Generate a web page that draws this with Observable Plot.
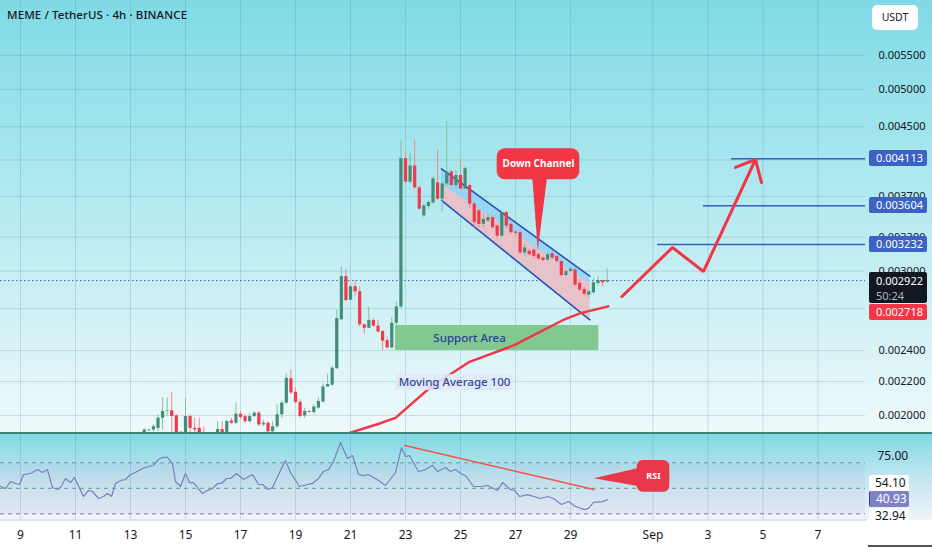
<!DOCTYPE html>
<html>
<head>
<meta charset="utf-8">
<script src="https://cdn.jsdelivr.net/npm/d3@7"></script>
<script src="https://cdn.jsdelivr.net/npm/@observablehq/plot@0.6"></script>
<style>
  html,body{margin:0;padding:0;background:#fff;}
  #chart{position:relative;width:932px;height:550px;overflow:hidden;font-family:"Noto Sans",sans-serif;color:#131722;}
  .bg{position:absolute;left:0;width:932px;}
  #bgMain{top:0;height:433px;background:linear-gradient(to bottom,#7fdae6 0%,#bdecf2 55%,#eff9fb 100%);}
  #bgRsi{top:433px;height:87px;background:linear-gradient(to bottom,#7ed8e4 0%,#c2e6ef 50%,#f2f3f9 100%);}
  #mainPlot,#rsiPlot{position:absolute;left:0;}
  #mainPlot{top:0;}
  #rsiPlot{top:433px;}
  #chart svg{overflow:hidden;}
  .line{position:absolute;}
  .tag{position:absolute;left:869px;width:58px;box-sizing:border-box;padding-left:7px;font-size:11px;line-height:16px;height:16px;color:#fff;border-radius:2px;}
  .rtag{position:absolute;left:869px;width:40px;box-sizing:border-box;padding-left:6px;font-size:12px;line-height:16px;height:16px;border-radius:2px;}
  #title{position:absolute;left:7px;top:7px;font-size:11.5px;font-weight:500;color:#131722;letter-spacing:0.1px;}
  #unit{position:absolute;left:872px;top:5px;width:46px;height:25px;background:#fff;border-radius:5px;font-size:10.5px;line-height:25px;text-align:center;color:#131722;}
  #maLabel{position:absolute;font-size:11.5px;font-weight:500;color:#3546a3;background:rgba(224,233,246,0.85);padding:0 3px;line-height:16px;white-space:nowrap;transform:translate(-50%,-50%);}
</style>
</head>
<body>
<div id="chart">
  <div class="bg" id="bgMain"></div>
  <div class="bg" id="bgRsi"></div>
  <div id="mainPlot"></div>
  <div id="rsiPlot"></div>
</div>
<script>
// ---------- scales / ticks ----------
const X_DOMAIN = [8.2727, 39.7273];          // days (Aug; 32 = Sep 1)
const Y_DOMAIN = [0.0019014, 0.006416];      // price, log scale
const RSI_DOMAIN = [24.75, 92.98];
const dayTicks = [9, 11, 13, 15, 17, 19, 21, 23, 25, 27, 29, 32, 34, 36, 38];
const dayTickLabels = ["9", "11", "13", "15", "17", "19", "21", "23", "25", "27", "29", "Sep", "3", "5", "7"];
const priceTicks = [0.0020, 0.0022, 0.0024, 0.0027, 0.0030, 0.0033, 0.0037, 0.0041, 0.0045, 0.0050, 0.0055];
const hiddenPriceTicks = [0.0027, 0.0041];   // labels fully covered by the value tags
const rsiTicks = [75];
const rsiBands = [70, 50, 30];

// ---------- candles (4h bars from Aug 13 08:00) ----------
const firstBarDay = 13 + 8 / 24;
const candleOpen = [0.001901,0.001899,0.001916,0.001920,0.001929,0.001985,0.002023,0.002027,0.001998,0.001908,0.001899,0.001994,0.001929,0.001929,0.001890,0.001870,0.001860,0.001890,0.001922,0.001907,0.001970,0.001957,0.002007,0.001994,0.001966,0.001994,0.002013,0.001948,0.001957,0.001911,0.001938,0.002004,0.002071,0.002217,0.002135,0.002075,0.001998,0.002021,0.002017,0.002042,0.002077,0.002167,0.002178,0.002281,0.002617,0.002954,0.002765,0.002871,0.002831,0.002580,0.002555,0.002612,0.002570,0.002532,0.002468,0.002418,0.002591,0.002713,0.004115,0.003852,0.004031,0.003790,0.003503,0.003598,0.003632,0.003844,0.003673,0.003833,0.003963,0.003815,0.003925,0.003779,0.003815,0.003622,0.003553,0.003421,0.003454,0.003487,0.003405,0.003310,0.003537,0.003421,0.003348,0.003342,0.003157,0.003172,0.003181,0.003142,0.003112,0.003095,0.003150,0.003127,0.003082,0.002963,0.002996,0.003011,0.002899,0.002850,0.002805,0.002823,0.002897,0.002921,0.002910];
const candleHigh = [0.001906,0.001929,0.001925,0.001948,0.002004,0.002101,0.002101,0.002131,0.002004,0.001912,0.002101,0.002004,0.001985,0.001985,0.001938,0.001885,0.001890,0.001966,0.001966,0.001975,0.001985,0.002071,0.002023,0.002004,0.002013,0.002023,0.002023,0.001975,0.001966,0.001966,0.002062,0.002081,0.002245,0.002271,0.002161,0.002091,0.002042,0.002029,0.002062,0.002101,0.002186,0.002245,0.002293,0.002688,0.003034,0.003011,0.002885,0.002926,0.002871,0.002587,0.002713,0.002625,0.002612,0.002539,0.002492,0.002634,0.002753,0.004322,0.004194,0.004174,0.004335,0.003810,0.003622,0.003656,0.003910,0.004214,0.003855,0.004568,0.003981,0.003981,0.004096,0.004023,0.003833,0.003639,0.003570,0.003520,0.003520,0.003503,0.003421,0.003553,0.003553,0.003438,0.003358,0.003358,0.003233,0.003190,0.003202,0.003157,0.003127,0.003165,0.003172,0.003135,0.003095,0.003011,0.003030,0.003026,0.002926,0.002871,0.002845,0.002940,0.002954,0.002926,0.003017];
const candleLow = [0.001898,0.001894,0.001912,0.001911,0.001911,0.001920,0.001994,0.001895,0.001890,0.001890,0.001890,0.001902,0.001895,0.001880,0.001850,0.001840,0.001845,0.001880,0.001885,0.001890,0.001948,0.001948,0.001977,0.001957,0.001957,0.001989,0.001938,0.001938,0.001902,0.001895,0.001929,0.001985,0.002062,0.002121,0.002062,0.001985,0.001985,0.002011,0.002004,0.002033,0.002071,0.002165,0.002172,0.002277,0.002612,0.002755,0.002762,0.002793,0.002565,0.002510,0.002553,0.002563,0.002520,0.002399,0.002410,0.002410,0.002575,0.002702,0.003832,0.003832,0.003780,0.003555,0.003487,0.003570,0.003622,0.003656,0.003540,0.003813,0.003800,0.003779,0.003762,0.003779,0.003570,0.003390,0.003390,0.003390,0.003438,0.003373,0.003279,0.003294,0.003373,0.003326,0.003294,0.003142,0.003127,0.003127,0.003112,0.003091,0.003080,0.003082,0.003095,0.003070,0.002954,0.002954,0.002990,0.002871,0.002832,0.002800,0.002780,0.002812,0.002875,0.002871,0.002899];
const candleClose = [0.001903,0.001920,0.001920,0.001938,0.001985,0.002023,0.002026,0.001994,0.001899,0.001902,0.001994,0.001929,0.001920,0.001890,0.001870,0.001860,0.001880,0.001922,0.001906,0.001966,0.001957,0.002007,0.001989,0.001966,0.001994,0.002013,0.001948,0.001957,0.001911,0.001938,0.002004,0.002071,0.002220,0.002131,0.002075,0.001994,0.002023,0.002017,0.002048,0.002081,0.002167,0.002182,0.002284,0.002625,0.002954,0.002762,0.002871,0.002831,0.002580,0.002555,0.002612,0.002570,0.002528,0.002464,0.002418,0.002591,0.002713,0.004115,0.003852,0.004031,0.003790,0.003570,0.003604,0.003639,0.003888,0.003673,0.003833,0.003963,0.003815,0.003925,0.003779,0.004000,0.003622,0.003438,0.003421,0.003470,0.003487,0.003390,0.003310,0.003537,0.003405,0.003342,0.003336,0.003157,0.003202,0.003142,0.003127,0.003104,0.003091,0.003142,0.003112,0.003082,0.002963,0.002996,0.003017,0.002885,0.002845,0.002812,0.002831,0.002904,0.002921,0.002904,0.002922];
const lastPrice = 0.002922;
const lastCountdown = "50:24";

// ---------- moving average 100 ----------
const maDays = [19.182, 20.938, 22.091, 22.636, 23.909, 25.302, 26.938, 28.698, 29.364, 30.371];
const maValues = [0.001849, 0.001903, 0.001957, 0.001987, 0.002165, 0.002323, 0.002435, 0.002612, 0.002666, 0.002718];

// ---------- drawings ----------
const channelDays = [24.309, 29.702];
const channelUpper = [0.003999, 0.002958];
const channelLower = [0.003659, 0.002617];
const channelShade = [0.003830, 0.002895];
const supportDays = [22.636, 30.029];
const supportPrices = [0.002401, 0.002575];
const supportText = "Support Area";
const supportTextDay = 25.33;
const maText = "Moving Average 100";
const maTextPos = [24.8, 0.002196];
const projDays = [30.836, 32.709, 33.836, 35.727];
const projPrices = [0.002786, 0.003206, 0.002997, 0.004105];
const arrowDays = [35.0, 35.727, 35.945];
const arrowPrices = [0.004014, 0.004105, 0.003848];
const targetLevels = [0.004113, 0.003604, 0.003232];
const targetStartDays = [34.855, 33.836, 32.164];
const calloutText = "Down Channel";
const calloutDays = [26.335, 29.338];
const calloutPrices = [0.003878, 0.004231];
const calloutPointerDays = [27.607, 28.153, 27.811];
const calloutPointerPrices = [0.003920, 0.003920, 0.003179];

// ---------- RSI ----------
const rsiDays = [8.273,8.455,8.636,8.818,8.964,9.109,9.364,9.618,9.8,9.982,10.164,10.345,10.455,10.636,10.818,10.964,11.291,11.473,11.618,11.836,12.018,12.164,12.309,12.455,12.636,12.818,13.0,13.109,13.436,13.655,13.836,14.018,14.164,14.345,14.527,14.636,14.818,15.0,15.145,15.291,15.618,15.8,15.982,16.164,16.309,16.491,16.636,16.855,17.109,17.436,17.655,17.8,18.018,18.164,18.455,18.636,18.818,19.145,19.436,19.618,19.836,20.018,20.2,20.382,20.636,20.891,21.073,21.291,21.473,21.655,22.018,22.273,22.636,22.855,23.0,23.145,23.473,23.727,23.982,24.164,24.455,24.636,24.818,25.0,25.182,25.473,25.727,25.982,26.345,26.527,26.818,26.964,27.145,27.436,27.909,28.164,28.382,28.673,28.927,29.182,29.509,29.655,29.836,30.164,30.345];
const rsiValues = [51.6,49.8,55.3,53.8,53.0,60.8,61.6,64.7,62.4,64.7,50.6,49.1,50.6,57.7,54.5,58.5,43.6,48.3,47.5,42.0,43.6,45.9,43.6,53.8,56.1,56.9,60.8,61.6,65.5,67.1,67.9,72.6,74.2,74.2,69.5,55.3,51.4,61.6,54.5,54.5,45.9,48.3,49.8,53.8,53.8,57.7,57.7,61.6,56.9,60.8,53.0,53.0,49.1,50.6,64.0,71.8,62.4,51.4,53.0,53.8,57.7,63.2,64.7,71.0,85.9,73.4,75.7,60.8,60.0,60.8,56.1,52.2,62.4,82.0,74.9,75.7,63.2,64.7,67.9,63.2,66.3,63.2,64.7,61.6,60.0,51.4,51.4,52.2,48.3,54.5,49.1,48.3,43.6,45.1,42.0,43.6,42.0,37.3,39.6,35.7,33.3,34.2,38.9,39.6,40.93];
const rsiLast = 40.93;
const rsiMaLast = 54.10;
const rsiLow = 32.94;
const rsiTrendDays = [22.975, 29.847];
const rsiTrendValues = [83.6, 49.1];
const rsiCalloutText = "RSI";
const rsiCalloutDays = [31.425, 32.611];
const rsiCalloutValues = [46.9, 71.8];
const rsiPointerDays = [29.847, 31.55, 31.55];
const rsiPointerValues = [57.9, 66.3, 51.4];

// ---------- colours ----------
const UP = "#428c78", UP_WICK = "#7cc49c", DOWN = "#f0394a", DOWN_WICK = "#ee8a8a";
const RED = "#f23645", BLUE = "#3a5fc0", GRID = "#2b7f90";
const FONT = '"Noto Sans", sans-serif';

// ---------- derived tables ----------
const bars = candleOpen.map((open, i) => ({day: firstBarDay + i / 6, open, high: candleHigh[i], low: candleLow[i], close: candleClose[i]}));
const upBars = bars.filter(b => b.close >= b.open);
const downBars = bars.filter(b => b.close < b.open);
const channel = channelDays.map((d, i) => ({day: d, upper: channelUpper[i], lower: channelLower[i], shade: channelShade[i]}));
const ma = maDays.map((d, i) => ({day: d, v: maValues[i]}));
const proj = projDays.map((d, i) => ({day: d, v: projPrices[i]}));
const arrow = arrowDays.map((d, i) => ({day: d, v: arrowPrices[i]}));
const targets = targetLevels.map((v, i) => ({v, x1: targetStartDays[i], x2: X_DOMAIN[1]}));
const pointer = calloutPointerDays.map((d, i) => ({day: d, v: calloutPointerPrices[i]}));
const rsi = rsiDays.map((d, i) => ({day: d, v: rsiValues[i]}));
const rsiTrend = rsiTrendDays.map((d, i) => ({day: d, v: rsiTrendValues[i]}));
const rsiPointer = rsiPointerDays.map((d, i) => ({day: d, v: rsiPointerValues[i]}));
const priceFmt = d3.format(".6f");

const mainPlot = Plot.plot({
  width: 932, height: 433,
  marginLeft: 0, marginRight: 67, marginTop: 0, marginBottom: 0,
  style: {background: "transparent", fontFamily: FONT, fontSize: "11px", color: "#131722"},
  x: {domain: X_DOMAIN, axis: null},
  y: {type: "log", domain: Y_DOMAIN, axis: "right", ticks: priceTicks.filter(v => !hiddenPriceTicks.includes(v)), tickFormat: priceFmt, tickSize: 0, tickPadding: 13, label: null},
  marks: [
    Plot.ruleX(dayTicks, {stroke: GRID, strokeOpacity: 0.2}),
    Plot.ruleY(priceTicks, {x1: X_DOMAIN[0], x2: X_DOMAIN[1], stroke: GRID, strokeOpacity: 0.2}),
    Plot.ruleY([lastPrice], {x1: X_DOMAIN[0], x2: X_DOMAIN[1], stroke: "#4f5fb8", strokeDasharray: "1.5,2.5", strokeWidth: 1}),
    Plot.areaY(channel, {x: "day", y1: "lower", y2: "upper", fill: "#90d2f6", fillOpacity: 0.85}),
    Plot.areaY(channel, {x: "day", y1: "lower", y2: "shade", fill: "#e8c2c9"}),
    Plot.line(channel, {x: "day", y: "upper", stroke: "#2d50b8", strokeWidth: 1.6}),
    Plot.line(channel, {x: "day", y: "lower", stroke: "#2d50b8", strokeWidth: 1.6}),
    Plot.rect([0], {x1: supportDays[0], x2: supportDays[1], y1: supportPrices[0], y2: supportPrices[1], fill: "#82c891"}),
    Plot.text([supportText], {x: supportTextDay, y: Math.sqrt(supportPrices[0] * supportPrices[1]), text: d => d, fill: "#2c3f9c", fontSize: 11.5, fontWeight: 500}),
    Plot.ruleX(upBars, {x: "day", y1: "low", y2: "high", stroke: UP_WICK, strokeWidth: 1, clip: true}),
    Plot.ruleX(downBars, {x: "day", y1: "low", y2: "high", stroke: DOWN_WICK, strokeWidth: 1, clip: true}),
    Plot.ruleX(upBars, {x: "day", y1: "open", y2: "close", stroke: UP, strokeWidth: 3.2, clip: true}),
    Plot.ruleX(downBars, {x: "day", y1: "open", y2: "close", stroke: DOWN, strokeWidth: 3.2, clip: true}),
    Plot.line(ma, {x: "day", y: "v", stroke: RED, strokeWidth: 2.4, clip: true}),
    Plot.ruleY(targets, {y: "v", x1: "x1", x2: "x2", stroke: BLUE, strokeWidth: 1.5}),
    Plot.line(proj, {x: "day", y: "v", stroke: RED, strokeWidth: 3, strokeLinejoin: "miter", strokeLinecap: "butt"}),
    Plot.line(arrow, {x: "day", y: "v", stroke: RED, strokeWidth: 3, strokeLinejoin: "miter"}),
    Plot.line(pointer, {x: "day", y: "v", fill: RED, stroke: "none"}),
    Plot.rect([0], {x1: calloutDays[0], x2: calloutDays[1], y1: calloutPrices[0], y2: calloutPrices[1], fill: RED, rx: 8}),
    Plot.text([calloutText], {x: (calloutDays[0] + calloutDays[1]) / 2, y: Math.sqrt(calloutPrices[0] * calloutPrices[1]), text: d => d, fill: "white", fontSize: 10, fontWeight: "bold"})
  ]
});
document.getElementById("mainPlot").appendChild(mainPlot);

const rsiPlot = Plot.plot({
  width: 932, height: 117,
  marginLeft: 0, marginRight: 67, marginTop: 0, marginBottom: 30,
  style: {background: "transparent", fontFamily: FONT, fontSize: "12px", color: "#131722"},
  x: {domain: X_DOMAIN, ticks: dayTicks, tickFormat: d => dayTickLabels[dayTicks.indexOf(d)], tickSize: 0, tickPadding: 10, label: null},
  y: {domain: RSI_DOMAIN, axis: "right", ticks: rsiTicks, tickFormat: d3.format(".2f"), tickSize: 0, tickPadding: 12, label: null},
  marks: [
    Plot.rect([0], {x1: X_DOMAIN[0], x2: X_DOMAIN[1], y1: rsiBands[2], y2: rsiBands[0], fill: "#7e57c2", fillOpacity: 0.06}),
    Plot.ruleX(dayTicks, {stroke: GRID, strokeOpacity: 0.2}),
    Plot.ruleY(rsiBands.slice(0, 2), {x1: X_DOMAIN[0], x2: X_DOMAIN[1], stroke: "#6f9a98", strokeDasharray: "4,4", strokeWidth: 1}),
    Plot.ruleY(rsiBands.slice(2), {x1: X_DOMAIN[0], x2: X_DOMAIN[1], stroke: "#7b7fc0", strokeDasharray: "4,4", strokeWidth: 1}),
    Plot.line(rsi, {x: "day", y: "v", stroke: "#7e7fbe", strokeWidth: 1.2, clip: true}),
    Plot.line(rsiTrend, {x: "day", y: "v", stroke: "#f0574a", strokeWidth: 1.5}),
    Plot.line(rsiPointer, {x: "day", y: "v", fill: "#e8384a", stroke: "none"}),
    Plot.rect([0], {x1: rsiCalloutDays[0], x2: rsiCalloutDays[1], y1: rsiCalloutValues[0], y2: rsiCalloutValues[1], fill: "#e8384a", rx: 6}),
    Plot.text([rsiCalloutText], {x: (rsiCalloutDays[0] + rsiCalloutDays[1]) / 2, y: (rsiCalloutValues[0] + rsiCalloutValues[1]) / 2, text: d => d, fill: "white", fontSize: 9, fontWeight: "bold"})
  ]
});
document.getElementById("rsiPlot").appendChild(rsiPlot);

// ---------- overlays positioned with the plot scales ----------
const chart = document.getElementById("chart");
function sc(plot, name, fallback) {
  const s = plot.scale && plot.scale(name);
  return (s && s.apply) ? v => s.apply(v) : fallback;
}
const yMain = sc(mainPlot, "y", v => 433 * (1 - Math.log(v / Y_DOMAIN[0]) / Math.log(Y_DOMAIN[1] / Y_DOMAIN[0])));
const xMain = sc(mainPlot, "x", v => 865 * (v - X_DOMAIN[0]) / (X_DOMAIN[1] - X_DOMAIN[0]));
const yRsi = sc(rsiPlot, "y", v => 87 * (1 - (v - RSI_DOMAIN[0]) / (RSI_DOMAIN[1] - RSI_DOMAIN[0])));

function el(tag, cls, css, html) {
  const e = document.createElement(tag);
  if (cls) e.className = cls;
  Object.assign(e.style, css || {});
  e.innerHTML = html;
  chart.appendChild(e);
  return e;
}
// separators
el("div", "line", {left: "0", top: "432px", width: "932px", height: "1.5px", background: "#3b8579"}, "");
el("div", "line", {left: "0", top: "519px", width: "866px", height: "2px", background: "#e1e4ea"}, "");
el("div", "line", {left: "868px", top: "545px", width: "64px", height: "1.5px", background: "#50535e"}, "");

const t = el("div", "", {}, "MEME / TetherUS · 4h · BINANCE"); t.id = "title";
const u = el("div", "", {}, "USDT"); u.id = "unit";

targetLevels.forEach(v => {
  el("div", "tag", {top: (yMain(v) - 8) + "px", background: "#3b62c4"}, priceFmt(v));
});
const lastY = yMain(lastPrice);
el("div", "tag", {top: (lastY - 8) + "px", height: "31px", background: "#131722", lineHeight: "15px", paddingTop: "1px"},
   priceFmt(lastPrice) + '<br><span style="color:#b2b5be">' + lastCountdown + "</span>");
el("div", "tag", {top: (lastY + 24) + "px", background: RED}, priceFmt(maValues[maValues.length - 1]));

const m = el("div", "", {left: xMain(maTextPos[0]) + "px", top: yMain(maTextPos[1]) + "px"}, maText); m.id = "maLabel";

// RSI axis labels
const r1 = 433 + yRsi(rsiMaLast);
el("div", "rtag", {top: (r1 - 8) + "px", background: "#fff", color: "#131722"}, rsiMaLast.toFixed(2));
const r2 = 433 + yRsi(rsiLast);
el("div", "rtag", {top: (r2 - 8) + "px", background: "#7e82c8", color: "#fff", borderLeft: "1px solid #3e418f"}, rsiLast.toFixed(2));
el("div", "rtag", {top: (r2 + 9) + "px", background: "rgba(255,255,255,0.9)", color: "#131722"}, rsiLow.toFixed(2));
</script>
</body>
</html>
